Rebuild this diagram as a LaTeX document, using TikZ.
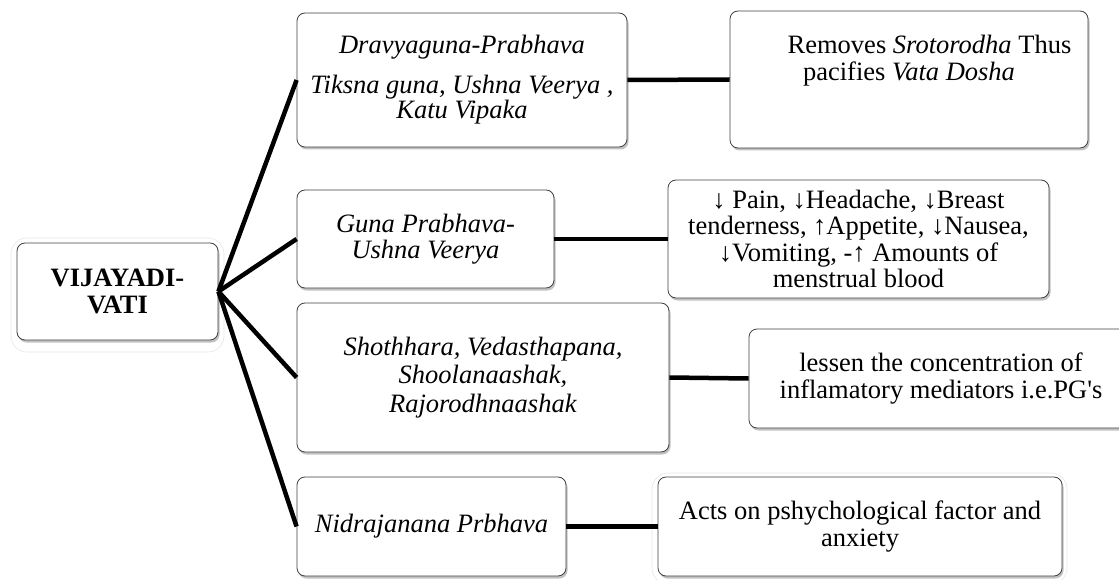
\documentclass[tikz,border=0pt]{standalone}
\usepackage{fontspec}
\setmainfont{Liberation Serif}[Ligatures=TeXOff]
\usetikzlibrary{shadows}
\begin{document}
\begin{tikzpicture}[x=1pt,y=-1pt,
  box/.style={draw=black!75, line width=0.8pt, rounded corners=8pt, fill=white,
    inner sep=0pt, align=center, font=\fontsize{26.5}{27.5}\selectfont,
    drop shadow={shadow xshift=1.5pt, shadow yshift=-2.5pt, fill=black!60, opacity=0.4}},
  txt/.style={inner sep=0pt, align=center, font=\fontsize{26.5}{27.5}\selectfont},
  link/.style={line width=4.5pt, black},
  halo/.style={draw=black!10, line width=0.6pt, rounded corners=16pt}
]
\useasboundingbox (0,0) rectangle (1119,580);
% faint halos
\draw[halo] (11,238) rectangle (224,352);
\draw[halo] (652,473) rectangle (1067,584);
% root
\node[box, minimum width=201pt, minimum height=97pt] (root) at (117.5,291.5)
  {\textbf{VIJAYADI-}\\\textbf{VATI}};
% level 1
\node[box, minimum width=330pt, minimum height=134pt] (a) at (462,80)
  {\textit{Dravyaguna-Prabhava}\\[12pt]\textit{Tiksna guna, Ushna Veerya ,}\\[-2pt]\textit{Katu Vipaka}};
\node[box, minimum width=257pt, minimum height=98pt] (b) at (425.5,239)
  {\textit{Guna Prabhava-}\\[-1pt]\textit{Ushna Veerya}};
\node[box, minimum width=372pt, minimum height=149pt] (c) at (483,377.5)
  {\textit{Shothhara, Vedasthapana,}\\[1pt]\textit{Shoolanaashak,}\\[1pt]\textit{Rajorodhnaashak}};
\node[box, minimum width=269pt, minimum height=99pt] (d) at (431.5,526.5)
  {\textit{Nidrajanana Prbhava}};
% level 2
\node[box, minimum width=358pt, minimum height=137pt] (a2) at (909,79.5) {};
\node[txt] (a2t) at (909,60.5)
  {\hspace*{41pt}Removes \textit{Srotorodha} Thus\\[-1pt]pacifies \textit{Vata Dosha}};
\node[box, minimum width=381pt, minimum height=118pt] (b2) at (858.5,239)
  {↓ Pain, ↓Headache, ↓Breast\\[-1pt]tenderness, ↑Appetite, ↓Nausea,\\[-1pt]↓Vomiting, -↑ Amounts of\\[-1pt]menstrual blood};
\node[box, minimum width=384pt, minimum height=99pt] (c2) at (941,378.5)
  {lessen the concentration of\\inflamatory mediators i.e.PG's};
\node[box, minimum width=404pt, minimum height=99pt] (d2) at (860,526.5)
  {Acts on pshychological factor and\\anxiety};
% connectors
\draw[link] (root.east) -- (a.west);
\draw[link] (root.east) -- (b.west);
\draw[link] (root.east) -- (c.west);
\draw[link] (root.east) -- (d.west);
\draw[link] (a.east) -- (a2.west);
\draw[link] (b.east) -- (b2.west);
\draw[link] (c.east) -- (c2.west);
\draw[link] (d.east) -- (d2.west);
\end{tikzpicture}
\end{document}
